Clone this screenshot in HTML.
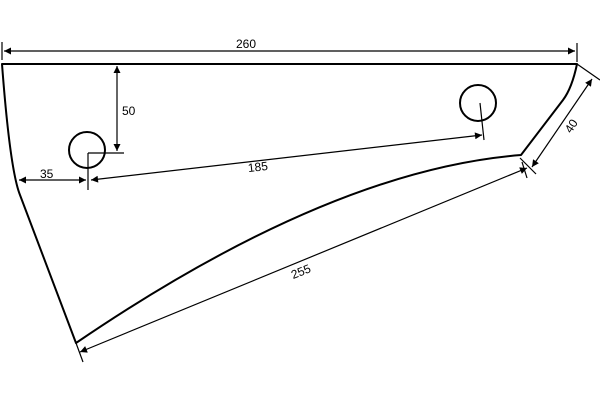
<!DOCTYPE html>
<html><head><style>body{margin:0;background:#fff}svg{display:block}</style></head><body>
<svg width="600" height="400" viewBox="0 0 600 400" xmlns="http://www.w3.org/2000/svg">
<defs><marker id="a" viewBox="0 0 10 10" refX="10" refY="5" markerWidth="9" markerHeight="7" orient="auto-start-reverse" markerUnits="userSpaceOnUse"><path d="M0,0L10,5L0,10z" fill="#000"/></marker></defs>
<g fill="none" stroke="#000">
<path d="M2,64 L577,64 Q572,88 563,100 L521,155 Q330,170 76,343 L20,195 Q10,170 2,64 Z" stroke-width="2" stroke-linejoin="round"/>
<circle cx="87" cy="150" r="18" stroke-width="2"/>
<circle cx="478" cy="103" r="18" stroke-width="2"/>
<g stroke-width="1.2">
<line x1="2" y1="42" x2="2" y2="60"/><line x1="577" y1="43" x2="577" y2="62"/>
<line x1="4" y1="51" x2="575" y2="51" marker-start="url(#a)" marker-end="url(#a)"/>
<line x1="117" y1="66" x2="117" y2="151" marker-start="url(#a)" marker-end="url(#a)"/>
<line x1="88" y1="153" x2="124" y2="153"/><line x1="88" y1="153" x2="88" y2="190"/>
<line x1="19" y1="180" x2="86" y2="180" marker-start="url(#a)" marker-end="url(#a)"/>
<line x1="91" y1="180" x2="482" y2="135" marker-start="url(#a)" marker-end="url(#a)"/>
<line x1="480" y1="103" x2="484" y2="140"/>
<line x1="577" y1="64" x2="600" y2="80"/><line x1="520" y1="158" x2="536" y2="174"/>
<line x1="592" y1="79" x2="532" y2="167" marker-start="url(#a)" marker-end="url(#a)"/>
<line x1="522" y1="162" x2="527" y2="178"/>
<line x1="76" y1="343" x2="83" y2="362"/>
<line x1="80" y1="352" x2="527" y2="168" marker-start="url(#a)" marker-end="url(#a)"/>
</g></g>
<g font-family="Liberation Sans, sans-serif" font-size="12" fill="#000">
<text x="236" y="48">260</text>
<text x="122" y="115">50</text>
<text x="40" y="178">35</text>
<text x="248" y="171" transform="rotate(-6.5 258 168)">185</text>
<text x="564" y="129" transform="rotate(-57 572 125)">40</text>
<text x="291" y="276" transform="rotate(-22 300 272)">255</text>
</g>
</svg>
</body></html>
